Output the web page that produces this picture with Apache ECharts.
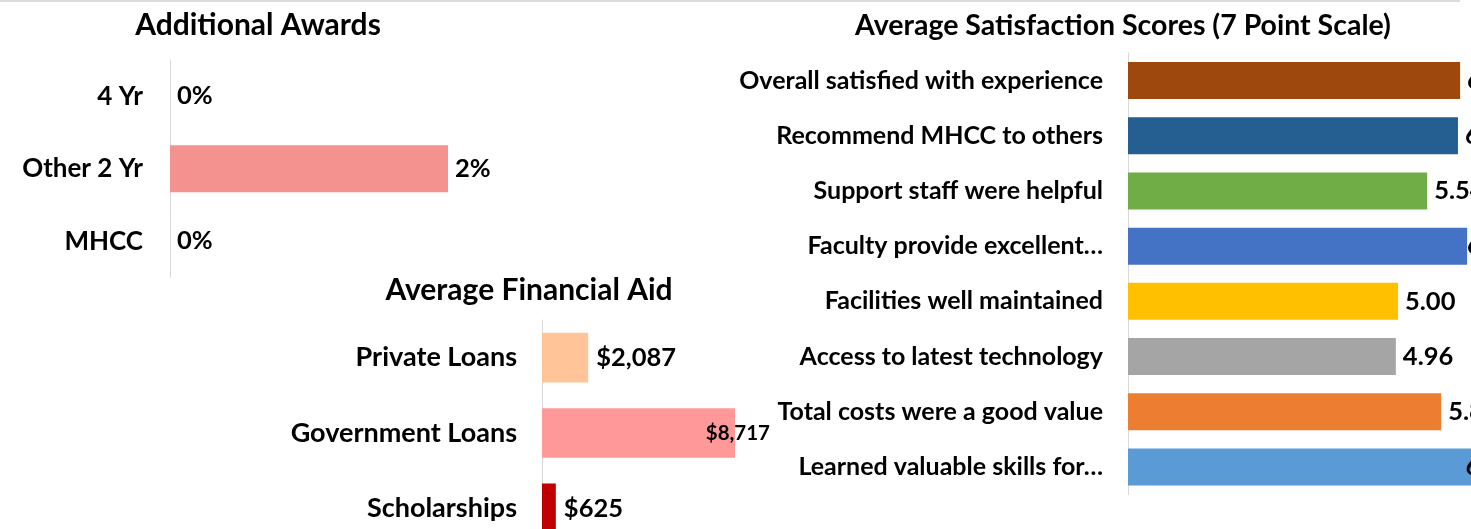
<!DOCTYPE html>
<html>
<head>
<meta charset="utf-8">
<script src="https://cdn.jsdelivr.net/npm/echarts@6/dist/echarts.min.js"></script>
<style>
  html, body { margin: 0; padding: 0; background: #fff; }
  #main { width: 1471px; height: 529px; }
</style>
</head>
<body>
<div id="main"></div>
<script>
// data
const awardCats = ['4 Yr', 'Other 2 Yr', 'MHCC'];
const awardVals = [0, 2, 0];

const aidCats = ['Private Loans', 'Government Loans', 'Scholarships'];
const aidVals = [2087, 8717, 625];

const satCats = [
  'Overall satisfied with experience',
  'Recommend MHCC to others',
  'Support staff were helpful',
  'Faculty provide excellent…',
  'Facilities well maintained',
  'Access to latest technology',
  'Total costs were a good value',
  'Learned valuable skills for…'
];
const satVals = [6.15, 6.11, 5.54, 6.28, 5.00, 4.96, 5.80, 6.40];

// colours
const aidColors = ['#FFC599', '#FF9999', '#C00000'];
const satColors = ['#9E480E', '#255E91', '#70AD47', '#4472C4', '#FFC000', '#A5A5A5', '#ED7D31', '#5B9BD5'];

const FONT = 'Lato';
const chart = echarts.init(document.getElementById('main'));

function catAxis(idx, cats, size, margin) {
  return {
    type: 'category',
    gridIndex: idx,
    data: cats,
    inverse: true,
    axisTick: { show: false },
    axisLine: { show: true, lineStyle: { color: '#d9d9d9', width: 1 } },
    axisLabel: { color: '#000', fontFamily: FONT, fontWeight: 'bold', fontSize: size, margin: margin }
  };
}
function valAxis(idx, max) {
  return { type: 'value', gridIndex: idx, min: 0, max: max, show: false, splitLine: { show: false } };
}
function money(v) {
  return '$' + v.toLocaleString('en-US');
}

const option = {
  backgroundColor: '#ffffff',
  animation: false,
  title: [
    { text: 'Additional Awards', left: 258, top: 10, textAlign: 'center', padding: 0,
      textStyle: { fontFamily: FONT, fontWeight: 'bold', fontSize: 30, color: '#000' } },
    { text: 'Average Financial Aid', left: 529, top: 275, textAlign: 'center', padding: 0,
      textStyle: { fontFamily: FONT, fontWeight: 'bold', fontSize: 30, color: '#000' } },
    { text: 'Average Satisfaction Scores (7 Point Scale)', left: 1123, top: 11, textAlign: 'center', padding: 0,
      textStyle: { fontFamily: FONT, fontWeight: 'bold', fontSize: 28.5, color: '#000' } }
  ],
  graphic: [{
    type: 'line',
    shape: { x1: 0, y1: 1, x2: 1460, y2: 1 },
    style: { stroke: '#d0d0d0', lineWidth: 1.5 }
  }],
  grid: [
    { left: 170, top: 60, width: 347.5, height: 217.5, outerBoundsMode: 'none' },
    { left: 542, top: 320, width: 221.4, height: 226, outerBoundsMode: 'none' },
    { left: 1128, top: 53, width: 378, height: 441.5, outerBoundsMode: 'none' }
  ],
  xAxis: [valAxis(0, 2.5), valAxis(1, 10000), valAxis(2, 7)],
  yAxis: [catAxis(0, awardCats, 26, 27), catAxis(1, aidCats, 27, 25), catAxis(2, satCats, 25, 25)],
  series: [
    {
      type: 'bar',
      xAxisIndex: 0, yAxisIndex: 0,
      data: awardVals,
      barCategoryGap: '35%',
      itemStyle: { color: '#F4928F' },
      label: {
        show: true, position: 'right', distance: 7,
        formatter: p => p.value + '%',
        color: '#000', fontFamily: FONT, fontWeight: 'bold', fontSize: 25.5
      }
    },
    {
      type: 'bar',
      xAxisIndex: 1, yAxisIndex: 1,
      data: aidVals.map((v, i) => {
        const item = { value: v, itemStyle: { color: aidColors[i] } };
        // label squeezed back over the bar end, as in the original
        if (i === 1) {
          item.label = { position: 'insideRight', distance: -35, fontSize: 20.5 };
        }
        return item;
      }),
      barCategoryGap: '34%',
      label: {
        show: true, position: 'right', distance: 8,
        formatter: p => money(p.value),
        color: '#000', fontFamily: FONT, fontWeight: 'bold', fontSize: 25.5
      }
    },
    {
      type: 'bar',
      xAxisIndex: 2, yAxisIndex: 2,
      data: satVals.map((v, i) => {
        const item = { value: v, itemStyle: { color: satColors[i] } };
        // labels near the cut-off edge get pulled inward
        if (i === 3) item.label = { distance: 0 };
        if (i === 7) item.label = { distance: -8 };
        return item;
      }),
      barCategoryGap: '33%',
      label: {
        show: true, position: 'right', distance: 7,
        formatter: p => p.value.toFixed(2),
        color: '#000', fontFamily: FONT, fontWeight: 'bold', fontSize: 25.5
      }
    }
  ]
};

chart.setOption(option);
</script>
</body>
</html>
